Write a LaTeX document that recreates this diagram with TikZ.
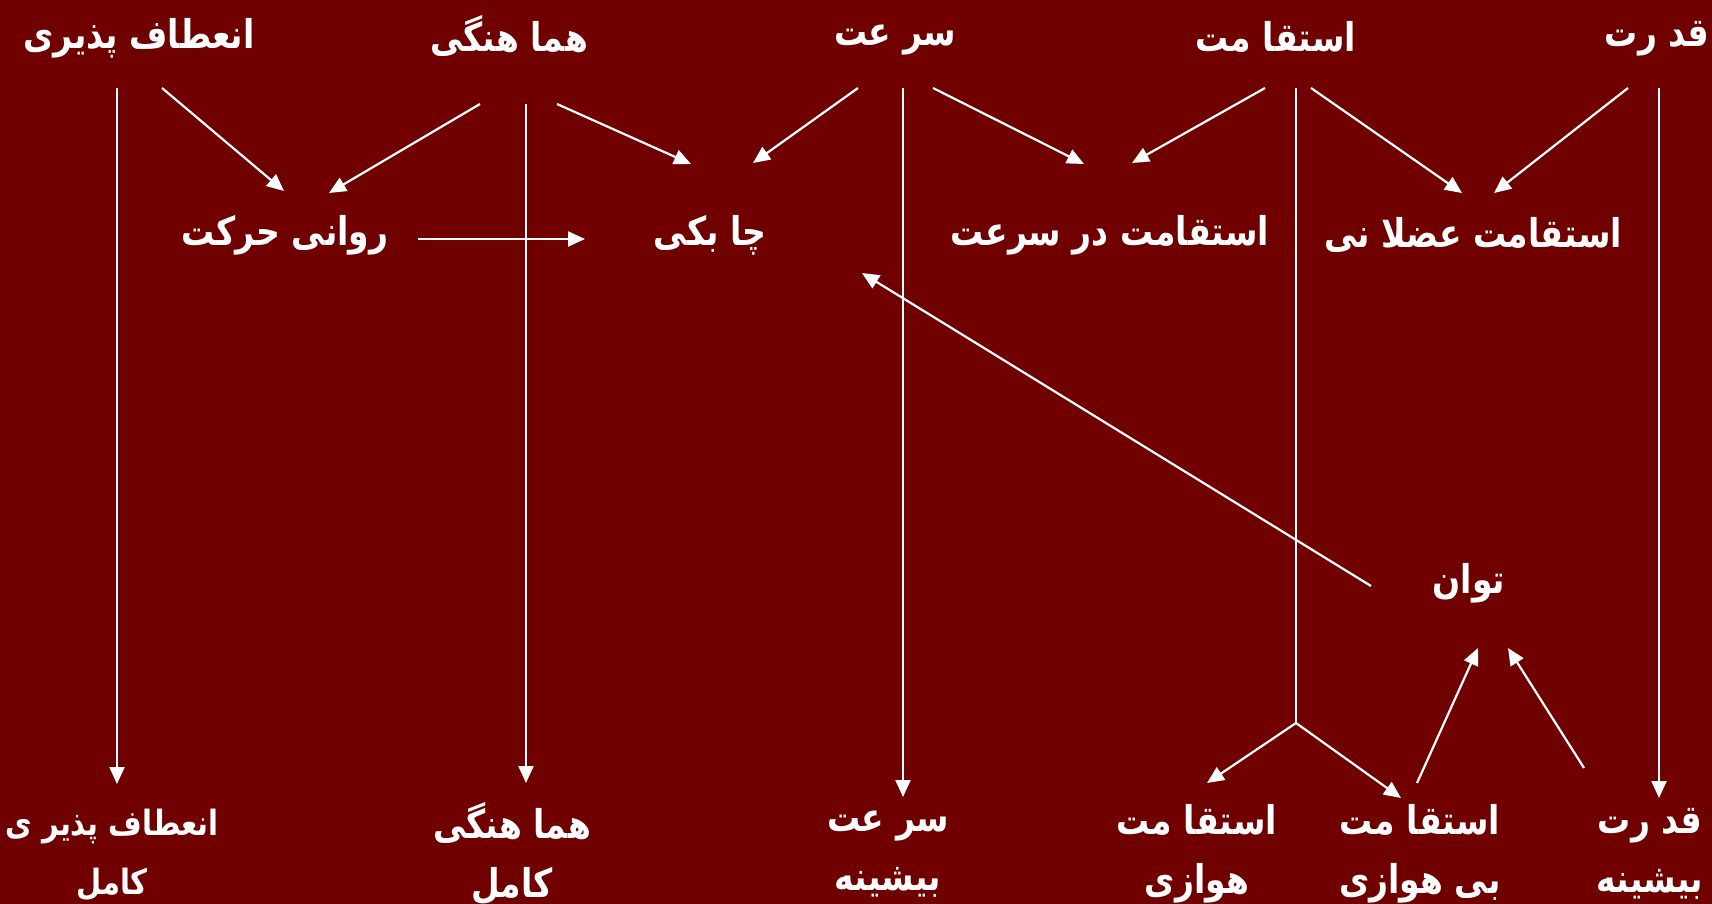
\documentclass[tikz,border=0pt]{standalone}
\usepackage{fontspec}
\usepackage{graphicx}
\newfontfamily\arabicfont[Script=Arabic]{DejaVu Sans}
\TeXXeTstate=1
\usetikzlibrary{arrows.meta}
\definecolor{bgred}{RGB}{112,0,0}
\newcommand{\artx}[1]{\scalebox{1}[1.2]{\beginR #1\endR}}
\tikzset{
  lbl/.style={text=white, font=\arabicfont\bfseries\fontsize{33}{59}\selectfont, align=center, inner sep=0pt},
  lblsmall/.style={lbl, font=\arabicfont\bfseries\fontsize{29}{59}\selectfont},
  link/.style={draw=white, line width=2.2pt},
  arr/.style={link, -{Triangle[length=17pt,width=15pt]}},
}
\begin{document}
\begin{tikzpicture}[x=1pt,y=-1pt]
\fill[bgred] (0,0) rectangle (1712,904);
\useasboundingbox (0,0) rectangle (1712,904);
% top row
\node[lbl] (flex)  at (139,38)  {\artx{انعطاف  پذیری}};
\node[lbl] (coord) at (509,36)  {\artx{هما هنگی}};
\node[lbl] (speed) at (895,40)  {\artx{سر عت}};
\node[lbl] (endur) at (1276,37) {\artx{استقا مت}};
\node[lbl] (power) at (1657,39) {\artx{قد رت}};
% middle row
\node[lbl] (fluid)   at (285,235)  {\artx{روانی  حرکت}};
\node[lbl] (agil)    at (710,235)  {\artx{چا بکی}};
\node[lbl] (spend)   at (1110,235) {\artx{استقامت در سرعت}};
\node[lbl] (muscend) at (1473,235) {\artx{استقامت عضلا نی}};
\node[lbl] (tavan)   at (1469,583) {\artx{توان}};
% bottom row
\node[lblsmall] (flexmax)  at (112,855)  {\artx{انعطاف پذیر ی}\\\artx{کامل}};
\node[lbl] (coordmax) at (512,854)  {\artx{هما هنگی}\\\artx{کامل}};
\node[lbl] (speedmax) at (888,854)  {\artx{سر عت}\\\artx{بیشینه}};
\node[lbl] (aerob)    at (1197,854) {\artx{استقا مت}\\\artx{هوازی}};
\node[lbl] (anaerob)  at (1420,854) {\artx{استقا مت}\\\artx{بی  هوازی}};
\node[lbl] (powermax) at (1650,854) {\artx{قد رت}\\\artx{بیشینه}};
% connector end points
\coordinate (flex-v)   at (117,88);   \coordinate (flexmax-in) at (117,784);
\coordinate (flex-d)   at (162,88);   \coordinate (fluid-in1)  at (284,191);
\coordinate (coord-l)  at (480,104);  \coordinate (fluid-in2)  at (329,193);
\coordinate (coord-v)  at (526,104);  \coordinate (coordmax-in) at (526,783);
\coordinate (coord-r)  at (557,104);  \coordinate (agil-in1)   at (691,164);
\coordinate (speed-l)  at (858,88);   \coordinate (agil-in2)   at (753,163);
\coordinate (speed-v)  at (903,88);   \coordinate (speedmax-in) at (903,797);
\coordinate (speed-r)  at (933,88);   \coordinate (spend-in1)  at (1084,164);
\coordinate (endur-l)  at (1265,88);  \coordinate (spend-in2)  at (1132,163);
\coordinate (endur-v)  at (1296,88);  \coordinate (split)      at (1296,723);
\coordinate (aerob-in) at (1207,783); \coordinate (anaerob-in) at (1401,798);
\coordinate (endur-r)  at (1311,88);  \coordinate (muscend-in1) at (1462,193);
\coordinate (power-l)  at (1628,88);  \coordinate (muscend-in2) at (1494,193);
\coordinate (power-v)  at (1659,88);  \coordinate (powermax-in) at (1659,798);
\coordinate (fluid-out) at (418,239); \coordinate (agil-in3)   at (585,239);
\coordinate (tavan-out) at (1371,586); \coordinate (agil-in4)  at (862,273);
\coordinate (anaerob-out) at (1417,783); \coordinate (tavan-in1) at (1478,648);
\coordinate (powermax-out) at (1584,768); \coordinate (tavan-in2) at (1508,648);
% connectors
\draw[arr] (flex-v) -- (flexmax-in);
\draw[arr] (flex-d) -- (fluid-in1);
\draw[arr] (coord-l) -- (fluid-in2);
\draw[arr] (coord-v) -- (coordmax-in);
\draw[arr] (coord-r) -- (agil-in1);
\draw[arr] (speed-l) -- (agil-in2);
\draw[arr] (speed-v) -- (speedmax-in);
\draw[arr] (speed-r) -- (spend-in1);
\draw[arr] (endur-l) -- (spend-in2);
\draw[link] (endur-v) -- (split);
\draw[arr] (split) -- (aerob-in);
\draw[arr] (split) -- (anaerob-in);
\draw[arr] (endur-r) -- (muscend-in1);
\draw[arr] (power-l) -- (muscend-in2);
\draw[arr] (power-v) -- (powermax-in);
\draw[arr] (fluid-out) -- (agil-in3);
\draw[arr] (tavan-out) -- (agil-in4);
\draw[arr] (anaerob-out) -- (tavan-in1);
\draw[arr] (powermax-out) -- (tavan-in2);
\end{tikzpicture}
\end{document}
